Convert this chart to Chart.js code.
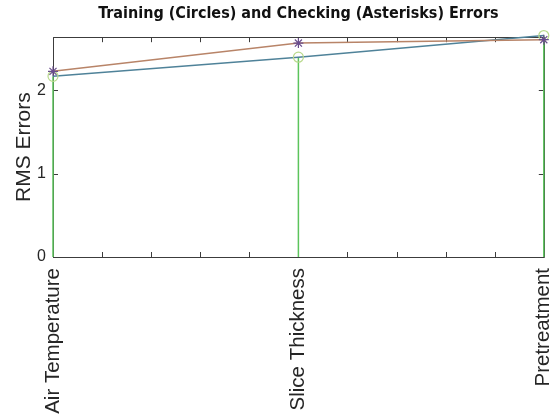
<!DOCTYPE html>
<html>
<head>
<meta charset="utf-8">
<script src="https://cdn.jsdelivr.net/npm/chart.js@4"></script>
<style>
html,body{margin:0;padding:0;background:#fff;overflow:hidden;}
#wrap{position:relative;width:550px;height:415px;}
</style>
</head>
<body>
<div id="wrap"><canvas id="c" width="550" height="415"></canvas></div>
<script>
const categories = ['Air Temperature', 'Slice Thickness', 'Pretreatment'];
const trainingErrors = [2.17, 2.40, 2.66];
const checkingErrors = [2.23, 2.57, 2.61];
const yTickValues = [0, 1, 2];
const titleText = 'Training (Circles) and Checking (Asterisks) Errors';
const yTitle = 'RMS Errors';

const xs = categories.map((c, i) => i + 1);
const trainPts = xs.map((x, i) => ({x: x, y: trainingErrors[i]}));
const checkPts = xs.map((x, i) => ({x: x, y: checkingErrors[i]}));
// vertical stems from 0 up to each training error (listed last-to-first)
const stemPts = [];
for (let i = xs.length - 1; i >= 0; i--) {
  stemPts.push({x: xs[i], y: trainingErrors[i]}, {x: xs[i], y: 0}, {x: xs[i], y: null});
}

const boxTicks = {
  id: 'boxTicks',
  beforeDatasetsDraw(chart) {
    const {ctx, chartArea: a, scales: {x, y}} = chart;
    ctx.save();
    ctx.strokeStyle = '#3c3c3c';
    ctx.lineWidth = 1;
    ctx.beginPath();
    x.ticks.forEach(t => {
      const px = Math.round(x.getPixelForValue(t.value)) + 0.5;
      ctx.moveTo(px, a.bottom); ctx.lineTo(px, a.bottom - 5);
      ctx.moveTo(px, a.top); ctx.lineTo(px, a.top + 5);
    });
    y.ticks.forEach(t => {
      const py = Math.round(y.getPixelForValue(t.value)) + 0.5;
      ctx.moveTo(a.left, py); ctx.lineTo(a.left + 5, py);
      ctx.moveTo(a.right, py); ctx.lineTo(a.right - 5, py);
    });
    ctx.stroke();
    ctx.beginPath();
    ctx.rect(Math.round(a.left) + 0.5, Math.round(a.top) + 0.5, Math.round(a.right - a.left), Math.round(a.bottom - a.top));
    ctx.stroke();
    ctx.restore();
  }
};

new Chart(document.getElementById('c'), {
  type: 'line',
  data: {
    datasets: [
      {
        label: 'stems', data: stemPts, borderColor: '#5cc45c', borderWidth: 1.5,
        pointRadius: 0, spanGaps: false, clip: false, order: 3
      },
      {
        label: 'Training', data: trainPts, borderColor: '#4f8299', borderWidth: 1.5,
        pointStyle: 'circle', pointRadius: 5, pointBorderColor: '#b9d98c',
        pointBackgroundColor: 'rgba(0,0,0,0)', pointBorderWidth: 1.2, clip: false, order: 2
      },
      {
        label: 'Checking', data: checkPts, borderColor: '#b88468', borderWidth: 1.5,
        pointStyle: 'star', pointRadius: 5, pointBorderColor: '#6a4d8c',
        pointBorderWidth: 1.2, clip: false, order: 1
      }
    ]
  },
  options: {
    responsive: false,
    animation: false,
    layout: {padding: {left: 0, right: 4, top: 0, bottom: 0}},
    plugins: {
      legend: {display: false},
      tooltip: {enabled: false},
      title: {
        display: true, text: titleText, color: '#111', fullSize: false,
        font: {family: "'Liberation Sans Narrow', 'DejaVu Sans Condensed', Arial, sans-serif", size: 16, weight: 'bold'},
        padding: {top: 4, bottom: 14}
      }
    },
    scales: {
      x: {
        type: 'linear', min: 1, max: 3,
        grid: {display: false, drawTicks: false},
        border: {display: false},
        ticks: {
          stepSize: 0.2, autoSkip: false, includeBounds: false,
          minRotation: 90, maxRotation: 90, padding: 11,
          color: '#262626',
          font: {family: "'Liberation Sans', Arial, sans-serif", size: 20.5},
          callback: (v) => {
            const i = Math.round(v);
            return Math.abs(v - i) < 1e-6 ? categories[i - 1] : '';
          }
        },
        afterFit: (s) => { s.paddingRight = 0; s.paddingLeft = 0; s.height = 158; }
      },
      y: {
        type: 'linear', min: 0, max: 2.64,
        grid: {display: false, drawTicks: false},
        border: {display: false},
        afterBuildTicks: (s) => { s.ticks = yTickValues.map(v => ({value: v})); },
        afterFit: (s) => { s.width = 53; },
        ticks: {
          color: '#262626', padding: 7,
          font: {family: "'Liberation Sans', Arial, sans-serif", size: 16},
          callback: (v) => String(v)
        },
        title: {
          display: true, text: yTitle, color: '#262626',
          font: {family: "'Liberation Sans', Arial, sans-serif", size: 21},
          padding: {top: 12, bottom: 0}
        }
      }
    }
  },
  plugins: [boxTicks]
});
</script>
</body>
</html>
